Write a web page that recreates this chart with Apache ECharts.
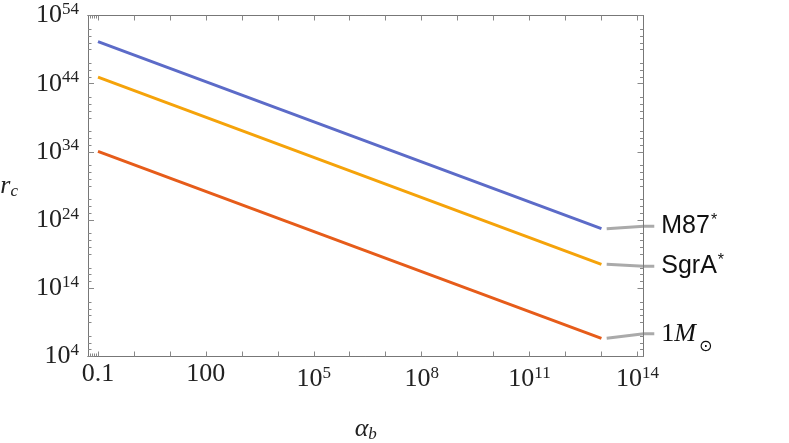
<!DOCTYPE html>
<html>
<head>
<meta charset="utf-8">
<script src="https://cdn.jsdelivr.net/npm/echarts@6/dist/echarts.min.js"></script>
<style>
  html, body { margin: 0; padding: 0; background: #fff; }
  #chart { width: 789px; height: 443px; }
</style>
</head>
<body>
<div id="chart"></div>
<script>
// values (log-log straight lines)
const names = ['M87*', 'SgrA*', '1M⊙'];
const alphaB = [0.1, 1e13];
const rcM87 = [1.5e50, 5.5e22];
const rcSgrA = [9e44, 3.3e17];
const rcSun = [1.2e34, 4.6e6];
const colors = ['#5c6bc8', '#f5a30a', '#e65c1a'];

// tick exponents
const xMajor = [-1, 0, 1, 2, 3, 4, 5, 6, 7, 8, 9, 10, 11, 12, 13, 14];
const xLabels = [-1, 2, 5, 8, 11, 14];
const xMinor = [0.06, 0.07, 0.08, 0.09];
const yLabels = [4, 14, 24, 34, 44, 54];
const yMinor = [5, 6, 7, 9, 10, 11, 12, 15, 16, 17, 19, 20, 21, 22, 25, 26, 27, 29, 30, 31, 32,
  35, 36, 37, 39, 40, 41, 42, 45, 46, 47, 49, 50, 51, 52];

// leader lines to the right-hand labels: [start x, bend x, end x] and label heights
const leaderX = [1.4e13, 1.5e14, 2.95e14];
const labelY = [1.3e23, 1.7e17, 2.1e7];

const lg = v => Math.log10(v);
const seriesData = [rcM87, rcSgrA, rcSun];

const chart = echarts.init(document.getElementById('chart'));

const axisLine = { show: true, onZero: false, lineStyle: { color: '#777', width: 1 } };
const xRich = {
  p: { fontFamily: 'Liberation Serif', fontSize: 26, color: '#222' },
  b: { fontFamily: 'Liberation Serif', fontSize: 26, color: '#222', padding: [5, 0, 0, 0] },
  s: { fontFamily: 'Liberation Serif', fontSize: 17, color: '#222', padding: [0, 0, 6, 0] }
};
const yRich = {
  b: { fontFamily: 'Liberation Serif', fontSize: 26, color: '#222' },
  s: { fontFamily: 'Liberation Serif', fontSize: 17, color: '#222', padding: [0, 0, 12, 0] }
};
function xFmt(v) {
  if (v === -1) return '{p|0.1}';
  if (v === 2) return '{p|100}';
  return '{b|10}{s|' + v + '}';
}

function xAxisDef(pos, ticks, len, showLabel) {
  return {
    type: 'value', position: pos, min: -1.278, max: 14.17,
    axisLine: axisLine, splitLine: { show: false },
    axisTick: { show: true, inside: true, length: len, customValues: ticks, lineStyle: { color: '#888' } },
    axisLabel: showLabel
      ? { show: true, customValues: xLabels, formatter: xFmt, rich: xRich, margin: 5 }
      : { show: false }
  };
}
function yAxisDef(pos, ticks, len, showLabel) {
  return {
    type: 'value', position: pos, min: 4, max: 54,
    axisLine: axisLine, splitLine: { show: false },
    axisTick: { show: true, inside: true, length: len, customValues: ticks, lineStyle: { color: '#888' } },
    axisLabel: showLabel
      ? { show: true, customValues: yLabels, formatter: v => '{b|10}{s|' + v + '}', rich: yRich, margin: 9 }
      : { show: false }
  };
}

const xAxes = [
  Object.assign(xAxisDef('bottom', xMajor, 5, true), {
    name: '{a|α}{sub|b}', nameLocation: 'middle', nameGap: 58,
    nameTextStyle: { rich: {
      a: { fontFamily: 'Liberation Serif', fontStyle: 'italic', fontSize: 26, color: '#222' },
      sub: { fontFamily: 'Liberation Serif', fontStyle: 'italic', fontSize: 17, color: '#222', padding: [12, 0, 0, 0] }
    } }
  }),
  xAxisDef('top', xMajor, 5, false),
  xAxisDef('bottom', xMinor.map(lg), 3, false),
  xAxisDef('top', xMinor.map(lg), 3, false)
];
const yAxes = [
  Object.assign(yAxisDef('left', yLabels, 6, true), {
    name: '{a|r}{sub|c}', nameLocation: 'middle', nameGap: 70, nameRotate: 0,
    nameTextStyle: { rich: {
      a: { fontFamily: 'Liberation Serif', fontStyle: 'italic', fontSize: 26, color: '#222' },
      sub: { fontFamily: 'Liberation Serif', fontStyle: 'italic', fontSize: 17, color: '#222', padding: [12, 0, 0, 0] }
    } }
  }),
  yAxisDef('right', yLabels, 6, false),
  yAxisDef('left', yMinor, 3.5, false),
  yAxisDef('right', yMinor, 3.5, false)
];

const labelFmt = [
  '{s|M87}{sup|*}',
  '{s|SgrA}{sup|*}',
  '{n|1}{m|M}{sub|⊙}'
];
const labelRich = {
  s: { fontFamily: 'Liberation Sans', fontSize: 25, fill: '#111' },
  sup: { fontFamily: 'Liberation Sans', fontSize: 16, fill: '#111', padding: [0, 0, 12, 1] },
  n: { fontFamily: 'Liberation Serif', fontSize: 26, fill: '#111' },
  m: { fontFamily: 'Liberation Serif', fontStyle: 'italic', fontSize: 26, fill: '#111' },
  sub: { fontFamily: 'DejaVu Sans', fontSize: 16, fill: '#111', padding: [26, 0, 0, 3] }
};

const series = seriesData.map((d, i) => ({
  name: names[i], type: 'line', showSymbol: false, silent: true,
  data: alphaB.map((a, j) => [lg(a), lg(d[j])]),
  lineStyle: { color: colors[i], width: 3 }
}));

chart.setOption({
  animation: false,
  grid: { left: 88, top: 15.5, right: 145.5, bottom: 86.5, outerBoundsMode: 'none' },
  xAxis: xAxes,
  yAxis: yAxes,
  series: series
});

// leader lines and labels outside the frame, placed through the axis scales
const toPx = (x, y) => chart.convertToPixel({ xAxisIndex: 0, yAxisIndex: 0 }, [lg(x), lg(y)]);
const graphics = [];
seriesData.forEach((d, i) => {
  const pts = [toPx(leaderX[0], d[1]), toPx(leaderX[1], labelY[i]), toPx(leaderX[2], labelY[i])];
  graphics.push({
    type: 'polyline', silent: true,
    shape: { points: pts },
    style: { stroke: '#aaa', lineWidth: 3, fill: null }
  });
  const end = pts[2];
  graphics.push({
    type: 'text', silent: true, x: end[0] + 7, y: end[1],
    style: { text: labelFmt[i], rich: labelRich, align: 'left', verticalAlign: 'middle' }
  });
});
chart.setOption({ graphic: graphics });
</script>
</body>
</html>
